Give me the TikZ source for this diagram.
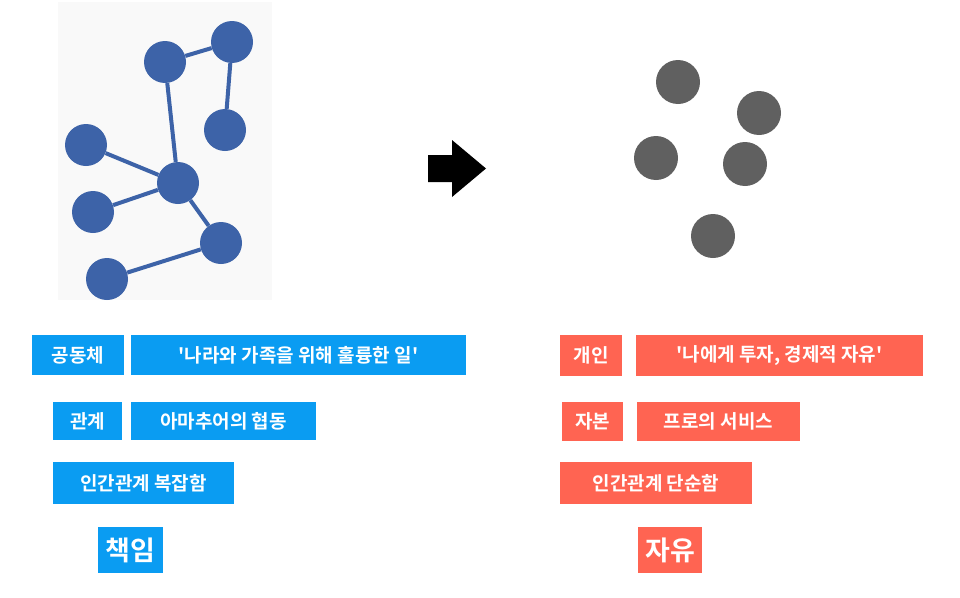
\documentclass[tikz,border=0pt]{standalone}
\usepackage{fontspec}
\newfontfamily\kr{Noto Sans CJK KR}[BoldFont={* Bold}]
\definecolor{bl}{HTML}{0A9CF2}
\definecolor{rd}{HTML}{FF6452}
\definecolor{nb}{HTML}{3D63A8}
\definecolor{ng}{HTML}{606060}
\begin{document}
\begin{tikzpicture}[x=1pt,y=-1pt,
  lab/.style={inner sep=0pt,text=white,font=\kr\bfseries\fontsize{19}{22}\selectfont},
  big/.style={lab,font=\kr\bfseries\fontsize{27}{30}\selectfont},
  nd/.style={circle,fill=nb,minimum size=42pt,inner sep=0pt},
  gd/.style={circle,fill=ng,minimum size=44pt,inner sep=0pt},
  ed/.style={draw=nb,line width=4pt}]
\useasboundingbox (0,0) rectangle (960,597);
\fill[gray!5] (58,2) rectangle (272,300);
% network
\node[nd] (A) at (165,62) {};
\node[nd] (B) at (232,42) {};
\node[nd] (C) at (225,130) {};
\node[nd] (D) at (86,145) {};
\node[nd] (E) at (178,183) {};
\node[nd] (F) at (93,212) {};
\node[nd] (G) at (221,243) {};
\node[nd] (H) at (107,279) {};
\begin{scope}[on background layer/.style={}]
\draw[ed] (A) -- (B); \draw[ed] (B) -- (C); \draw[ed] (A) -- (E);
\draw[ed] (D) -- (E); \draw[ed] (E) -- (F); \draw[ed] (E) -- (G);
\draw[ed] (G) -- (H);
\end{scope}
% arrow
\fill[black] (428,155) -- (452,155) -- (452,140) -- (486,168.5) -- (452,197) -- (452,182) -- (428,182) -- cycle;
% gray dots
\node[gd] (p1) at (678,82) {};
\node[gd] (p2) at (759,113) {};
\node[gd] (p3) at (656,158) {};
\node[gd] (p4) at (745,164) {};
\node[gd] (p5) at (713,236) {};
% labels left
\fill[bl] (32,335) rectangle (124,375); \node[lab] (l1) at (78,355) {공동체};
\fill[bl] (131,335) rectangle (466,375); \node[lab] (l2) at (298.5,355) {'나라와 가족을 위해 훌륭한 일'};
\fill[bl] (53,402) rectangle (122,440); \node[lab] (l3) at (87.5,421) {관계};
\fill[bl] (131,402) rectangle (316,440); \node[lab] (l4) at (223.5,421) {아마추어의 협동};
\fill[bl] (53,462) rectangle (234,504); \node[lab] (l5) at (143.5,483) {인간관계 복잡함};
\fill[bl] (98,527) rectangle (163,573); \node[big] (l6) at (130.5,550) {책임};
% labels right
\fill[rd] (560,335) rectangle (622,376); \node[lab] (r1) at (591,355.5) {개인};
\fill[rd] (636,335) rectangle (923,376); \node[lab] (r2) at (779.5,355.5) {'나에게 투자, 경제적 자유'};
\fill[rd] (562,402) rectangle (623,441); \node[lab] (r3) at (592.5,421.5) {자본};
\fill[rd] (637,402) rectangle (800,441); \node[lab] (r4) at (718.5,421.5) {프로의 서비스};
\fill[rd] (560,462) rectangle (752,504); \node[lab] (r5) at (656,483) {인간관계 단순함};
\fill[rd] (638,527) rectangle (702,573); \node[big] (r6) at (670,550) {자유};
\end{tikzpicture}
\end{document}
